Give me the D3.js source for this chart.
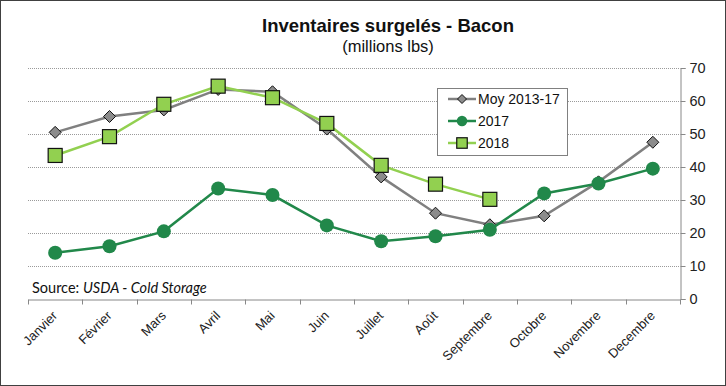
<!DOCTYPE html>
<html>
<head>
<meta charset="utf-8">
<script src="https://cdn.jsdelivr.net/npm/d3@7"></script>
<style>
  body { margin: 0; background: #fff; }
  svg { display: block; }
</style>
</head>
<body>
<svg id="chart"></svg>
<script>
const months = ["Janvier", "Février", "Mars", "Avril", "Mai", "Juin", "Juillet", "Août", "Septembre", "Octobre", "Novembre", "Decembre"];
const moy = [50.5, 55.3, 57.3, 63.5, 62.8, 51.5, 37, 26, 22.5, 25.2, 35.5, 47.5];
const y2017 = [14, 16, 20.5, 33.5, 31.5, 22.3, 17.5, 19, 21, 32, 35, 39.5];
const y2018 = [43.5, 49.2, 59, 64.5, 61, 53.2, 40.5, 34.8, 30.2];
const yTicks = [0, 10, 20, 30, 40, 50, 60, 70];

const width = 726, height = 386;
const svg = d3.select("#chart").attr("width", width).attr("height", height);

// cadre
svg.append("rect")
    .attr("x", 0.5).attr("y", 0.5)
    .attr("width", width - 1).attr("height", height - 1)
    .attr("fill", "#fff").attr("stroke", "#404040");

const x = d3.scaleBand().domain(months).range([28, 680]);
const y = d3.scaleLinear().domain([0, 70]).range([299, 68]);

// grille
svg.append("g")
    .selectAll("line")
    .data(yTicks.filter(d => d > 0))
    .enter().append("line")
    .attr("x1", 28).attr("x2", 680)
    .attr("y1", d => Math.round(y(d)) + 0.5)
    .attr("y2", d => Math.round(y(d)) + 0.5)
    .attr("stroke", "#9a9a9a")
    .attr("stroke-dasharray", "1,1");

// axe droit
const yAxis = svg.append("g")
    .attr("transform", "translate(680.5,0)")
    .call(d3.axisRight(y).tickValues(yTicks).tickSize(5).tickPadding(4));
yAxis.select(".domain").attr("stroke", "#888");
yAxis.selectAll(".tick line").attr("stroke", "#888");
yAxis.selectAll("text")
    .attr("font-family", "Liberation Sans, Arial, sans-serif")
    .attr("font-size", 14.5).attr("fill", "#222");

// axe du bas
const xAxis = svg.append("g")
    .attr("transform", "translate(0,299.5)")
    .call(d3.axisBottom(x).tickSize(0).tickSizeOuter(0));
xAxis.select(".domain").attr("stroke", "#888");
xAxis.selectAll(".tick text")
    .attr("font-family", "Liberation Sans, Arial, sans-serif")
    .attr("font-size", 13).attr("fill", "#222")
    .attr("text-anchor", "end")
    .attr("x", 0).attr("y", 0).attr("dy", 0)
    .attr("transform", "translate(3,17) rotate(-45)");
xAxis.append("g")
    .selectAll("line")
    .data(months.concat([null]))
    .enter().append("line")
    .attr("x1", (d, i) => Math.round(28 + i * x.step()) + 0.5)
    .attr("x2", (d, i) => Math.round(28 + i * x.step()) + 0.5)
    .attr("y1", 0).attr("y2", 5)
    .attr("stroke", "#888");

const cx = (d, i) => x(months[i]) + x.bandwidth() / 2;
const line = d3.line().x(cx).y(d => y(d));

const series = [
    { name: "Moy 2013-17", values: moy, color: "#808080", fill: "#8c8c8c", shape: "diamond", width: 2.5 },
    { name: "2017", values: y2017, color: "#21884a", fill: "#21884a", shape: "circle", width: 2.5 },
    { name: "2018", values: y2018, color: "#92d050", fill: "#92d050", shape: "square", width: 2.5 }
];

function marker(g, s, px, py, scale) {
    scale = scale || 1;
    if (s.shape === "diamond") {
        const r = 6 * scale;
        g.append("path")
            .attr("d", `M${px},${py - r}L${px + r},${py}L${px},${py + r}L${px - r},${py}Z`)
            .attr("fill", s.fill).attr("stroke", "#111").attr("stroke-width", 1);
    } else if (s.shape === "circle") {
        g.append("circle").attr("cx", px).attr("cy", py).attr("r", 7 * scale)
            .attr("fill", s.fill);
    } else {
        const h = 7 * scale;
        g.append("rect").attr("x", px - h).attr("y", py - h)
            .attr("width", 2 * h).attr("height", 2 * h)
            .attr("fill", s.fill).attr("stroke", "#111").attr("stroke-width", 1.2);
    }
}

series.forEach(s => {
    const g = svg.append("g");
    g.append("path")
        .datum(s.values)
        .attr("d", line)
        .attr("fill", "none")
        .attr("stroke", s.color)
        .attr("stroke-width", s.width);
    s.values.forEach((v, i) => marker(g, s, cx(v, i), y(v)));
});

// source
svg.append("text")
    .attr("x", 32).attr("y", 293)
    .attr("font-family", "Lato, Carlito, Calibri, sans-serif")
    .attr("font-size", 14.5).attr("fill", "#111")
    .text("Source: ")
    .append("tspan").attr("font-style", "italic").text("USDA - Cold Storage");

// légende
const legend = svg.append("g");
legend.append("rect")
    .attr("x", 437.5).attr("y", 88.5).attr("width", 130).attr("height", 67)
    .attr("fill", "#fff").attr("stroke", "#808080");
series.forEach((s, i) => {
    const ly = 99 + i * 22;
    legend.append("line")
        .attr("x1", 448).attr("x2", 476).attr("y1", ly).attr("y2", ly)
        .attr("stroke", s.color).attr("stroke-width", s.width);
    marker(legend, s, 462, ly, 0.75);
    legend.append("text")
        .attr("x", 478).attr("y", ly + 5)
        .attr("font-family", "Liberation Sans, Arial, sans-serif")
        .attr("font-size", 14).attr("fill", "#111")
        .text(s.name);
});

// titre
svg.append("text")
    .attr("x", 388).attr("y", 32)
    .attr("text-anchor", "middle")
    .attr("font-family", "Liberation Sans, Arial, sans-serif")
    .attr("font-weight", "bold").attr("font-size", 18.5).attr("fill", "#111")
    .text("Inventaires surgelés - Bacon");
svg.append("text")
    .attr("x", 388).attr("y", 52)
    .attr("text-anchor", "middle")
    .attr("font-family", "Liberation Sans, Arial, sans-serif")
    .attr("font-size", 16.5).attr("fill", "#111")
    .text("(millions lbs)");
</script>
</body>
</html>
